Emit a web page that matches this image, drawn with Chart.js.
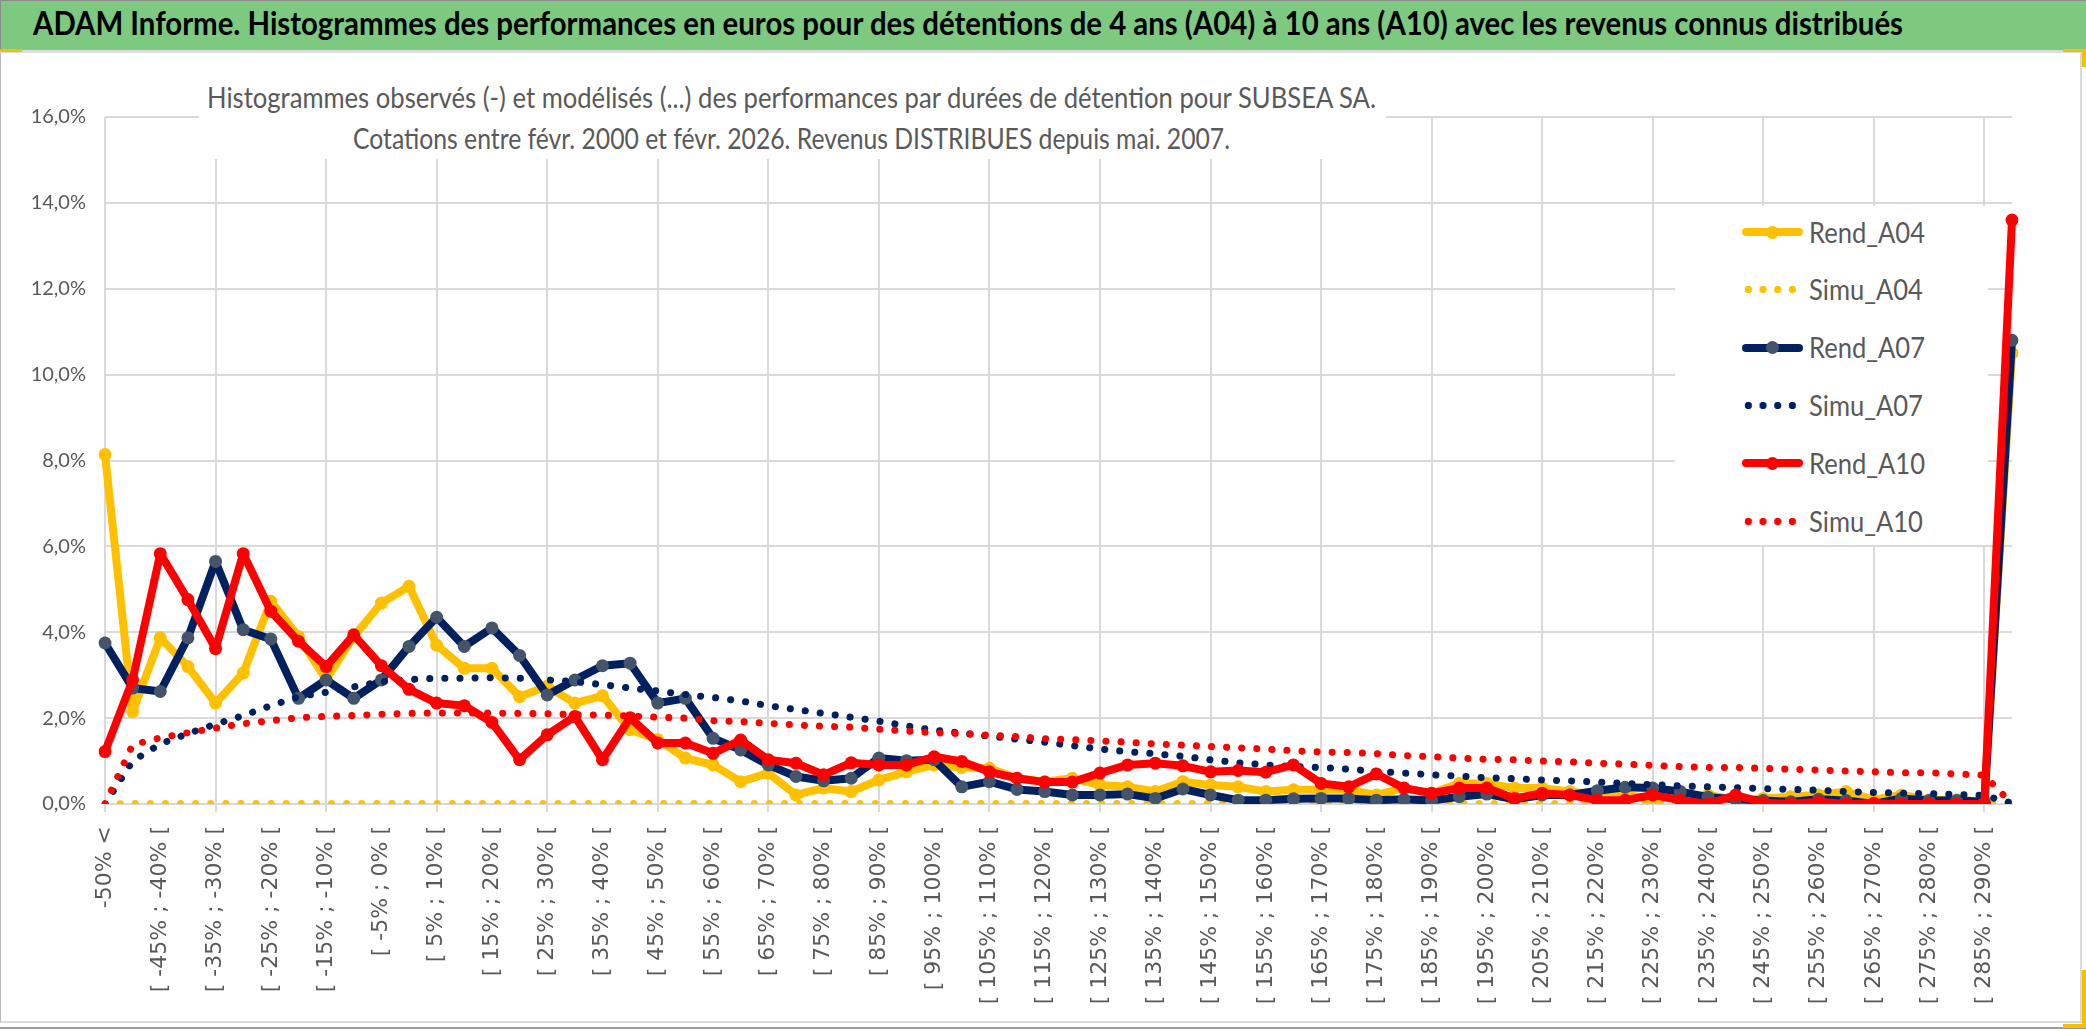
<!DOCTYPE html>
<html>
<head>
<meta charset="utf-8">
<script src="https://cdn.jsdelivr.net/npm/chart.js@4.4.1/dist/chart.umd.min.js"></script>
<style>
body { margin: 0; background: #fff; }
#page { position: relative; width: 2086px; height: 1031px; overflow: hidden; background: #fff; }
#head { position: absolute; left: 0; top: 0; width: 2086px; height: 50px; background: #7dc97f; border-top: 1px solid #8a8a8a; border-left: 1px solid #8a8a8a; box-sizing: border-box; }
#headline { position: absolute; left: 0; top: 50px; width: 2086px; height: 3px; background: #dcdcdc; }
#frame { position: absolute; left: 0; top: 53px; width: 2082px; height: 970px; border-right: 2px solid #d9d9d9; border-bottom: 2px solid #d9d9d9; border-left: 1px solid #bbb; box-sizing: border-box; }
#bottomline { position: absolute; left: 0; top: 1027px; width: 2086px; height: 2px; background: #9a9a9a; }
#cv { position: absolute; left: 0; top: 0; }
.txt { position: absolute; white-space: nowrap; transform-origin: left center; font-family: Lato, "Open Sans", sans-serif; line-height: 1; }
#title { left: 33px; top: 7px; font-size: 32px; font-weight: bold; color: #000; }
#subbox { position: absolute; left: 199px; top: 56px; width: 1187px; height: 103px; background: #fff; }
.sub { font-size: 29px; color: #595959; }
#legend { position: absolute; left: 1675px; top: 206px; width: 313px; height: 339px; background: #fff; }
.lab { font-size: 28px; color: #595959; }
.key { position: absolute; }
.hdl { position: absolute; background: #f5c000; }
</style>
</head>
<body>
<div id="page">
  <div id="frame"></div>
  <canvas id="cv" width="2086" height="1031"></canvas>
  <div id="head"></div>
  <div id="headline"></div>
  <div id="bottomline"></div>
  <div class="hdl" style="left:0;top:49px;width:22px;height:3px"></div>
  <div class="hdl" style="left:2063px;top:49px;width:23px;height:3px"></div>
  <div class="hdl" style="left:2082px;top:52px;width:4px;height:15px"></div>
  <div class="hdl" style="left:2082px;top:970px;width:4px;height:58px"></div>
  <div class="hdl" style="left:2063px;top:1024px;width:23px;height:4px"></div>
  <span class="txt" id="title">ADAM Informe. Histogrammes des performances en euros pour des détentions de 4 ans (A04) à 10 ans (A10) avec les revenus connus distribués</span>
  <div id="subbox"></div>
  <span class="txt sub" id="sub1" style="left:207px;top:82px">Histogrammes observés (-) et modélisés (...) des performances par durées de détention pour SUBSEA SA.</span>
  <span class="txt sub" id="sub2" style="left:353px;top:123px">Cotations entre févr. 2000 et févr. 2026. Revenus DISTRIBUES depuis mai. 2007.</span>
  <div id="legend"></div>
</div>
<script>
// classes de performance (une étiquette sur deux affichée)
const categories = [
  '-50% <', '[ -50% ; -45% [', '[ -45% ; -40% [', '[ -40% ; -35% [', '[ -35% ; -30% [', '[ -30% ; -25% [',
  '[ -25% ; -20% [', '[ -20% ; -15% [', '[ -15% ; -10% [', '[ -10% ; -5% [', '[ -5% ; 0% [', '[ 0% ; 5% [',
  '[ 5% ; 10% [', '[ 10% ; 15% [', '[ 15% ; 20% [', '[ 20% ; 25% [', '[ 25% ; 30% [', '[ 30% ; 35% [',
  '[ 35% ; 40% [', '[ 40% ; 45% [', '[ 45% ; 50% [', '[ 50% ; 55% [', '[ 55% ; 60% [', '[ 60% ; 65% [',
  '[ 65% ; 70% [', '[ 70% ; 75% [', '[ 75% ; 80% [', '[ 80% ; 85% [', '[ 85% ; 90% [', '[ 90% ; 95% [',
  '[ 95% ; 100% [', '[ 100% ; 105% [', '[ 105% ; 110% [', '[ 110% ; 115% [', '[ 115% ; 120% [', '[ 120% ; 125% [',
  '[ 125% ; 130% [', '[ 130% ; 135% [', '[ 135% ; 140% [', '[ 140% ; 145% [', '[ 145% ; 150% [', '[ 150% ; 155% [',
  '[ 155% ; 160% [', '[ 160% ; 165% [', '[ 165% ; 170% [', '[ 170% ; 175% [', '[ 175% ; 180% [', '[ 180% ; 185% [',
  '[ 185% ; 190% [', '[ 190% ; 195% [', '[ 195% ; 200% [', '[ 200% ; 205% [', '[ 205% ; 210% [', '[ 210% ; 215% [',
  '[ 215% ; 220% [', '[ 220% ; 225% [', '[ 225% ; 230% [', '[ 230% ; 235% [', '[ 235% ; 240% [', '[ 240% ; 245% [',
  '[ 245% ; 250% [', '[ 250% ; 255% [', '[ 255% ; 260% [', '[ 260% ; 265% [', '[ 265% ; 270% [', '[ 270% ; 275% [',
  '[ 275% ; 280% [', '[ 280% ; 285% [', '[ 285% ; 290% [', '290% >'
]

// valeurs en %
const rendA04 = [8.14, 2.15, 3.87, 3.2, 2.35, 3.05, 4.72, 3.9, 2.9, 3.9, 4.68, 5.07, 3.7, 3.16, 3.16, 2.5, 2.74, 2.35, 2.52, 1.73,
  1.5, 1.07, 0.91, 0.52, 0.72, 0.21, 0.37, 0.29, 0.56, 0.75, 0.91, 0.85, 0.83, 0.6, 0.52, 0.6, 0.44, 0.4, 0.29, 0.52,
  0.44, 0.4, 0.29, 0.33, 0.33, 0.33, 0.21, 0.37, 0.25, 0.48, 0.48, 0.37, 0.37, 0.29, 0.21, 0.21, 0.13, 0.17, 0.21, 0.1,
  0.13, 0.17, 0.21, 0.29, 0.1, 0.21, 0.1, 0.1, 0.05, 10.5]
const simuA04 = [0, 0.01, 0.01, 0.01, 0.01, 0.01, 0.01, 0.01, 0.01, 0.01, 0.01, 0.01, 0.01, 0.01, 0.01, 0.01, 0.01, 0.01, 0.01, 0.01,
  0.01, 0.01, 0.01, 0.01, 0.01, 0.01, 0.01, 0.01, 0.01, 0.01, 0.01, 0.01, 0.01, 0.01, 0.01, 0.01, 0.01, 0.01, 0.01, 0.01,
  0.01, 0.01, 0.01, 0.01, 0.01, 0.01, 0.01, 0.01, 0.01, 0.01, 0.01, 0.01, 0.01, 0.01, 0.01, 0.01, 0.01, 0.01, 0.01, 0.01,
  0.01, 0.01, 0.01, 0.01, 0.01, 0.01, 0.01, 0.01, 0.01, 0.01]
const rendA07 = [3.75, 2.7, 2.62, 3.87, 5.65, 4.06, 3.84, 2.46, 2.89, 2.46, 2.89, 3.67, 4.35, 3.67, 4.1, 3.46, 2.54, 2.89, 3.22, 3.28,
  2.35, 2.46, 1.53, 1.26, 0.91, 0.64, 0.54, 0.6, 1.07, 1.01, 1.03, 0.4, 0.52, 0.34, 0.29, 0.21, 0.21, 0.23, 0.13, 0.35,
  0.21, 0.09, 0.09, 0.12, 0.13, 0.13, 0.09, 0.11, 0.08, 0.17, 0.23, 0.11, 0.21, 0.21, 0.31, 0.39, 0.37, 0.29, 0.16, 0.11,
  0.08, 0.05, 0.11, 0.08, 0.0, 0.13, 0.08, 0.08, 0.05, 10.8]
const simuA07 = [0, 1.0, 1.4, 1.64, 1.86, 2.06, 2.29, 2.5, 2.6, 2.73, 2.85, 2.9, 2.93, 2.93, 2.94, 2.93, 2.89, 2.85, 2.78, 2.7,
  2.63, 2.55, 2.48, 2.4, 2.29, 2.2, 2.11, 2.02, 1.93, 1.82, 1.72, 1.65, 1.58, 1.51, 1.44, 1.36, 1.28, 1.22, 1.17, 1.11,
  1.03, 0.96, 0.91, 0.87, 0.85, 0.81, 0.76, 0.72, 0.68, 0.65, 0.61, 0.59, 0.56, 0.54, 0.51, 0.48, 0.45, 0.42, 0.4, 0.38,
  0.36, 0.34, 0.32, 0.29, 0.27, 0.25, 0.24, 0.22, 0.2, 0.02]
const rendA10 = [1.22, 2.89, 5.83, 4.76, 3.62, 5.83, 4.49, 3.79, 3.2, 3.94, 3.22, 2.67, 2.35, 2.29, 1.9, 1.03, 1.61, 2.04, 1.03, 2.01,
  1.42, 1.42, 1.18, 1.49, 1.03, 0.95, 0.68, 0.96, 0.91, 0.91, 1.1, 0.99, 0.75, 0.6, 0.51, 0.51, 0.72, 0.91, 0.95, 0.89,
  0.75, 0.78, 0.74, 0.91, 0.48, 0.4, 0.7, 0.37, 0.25, 0.37, 0.37, 0.13, 0.25, 0.21, 0.09, 0.09, 0.21, 0.09, 0.0, 0.21,
  0.03, 0.0, 0.05, 0.0, 0.02, 0.0, 0.0, 0.0, 0.0, 13.6]
const simuA10 = [0, 1.38, 1.54, 1.66, 1.77, 1.87, 1.94, 2.01, 2.04, 2.06, 2.09, 2.11, 2.12, 2.12, 2.12, 2.11, 2.1, 2.08, 2.07, 2.05,
  2.02, 2.0, 1.94, 1.92, 1.88, 1.84, 1.81, 1.79, 1.74, 1.7, 1.66, 1.64, 1.6, 1.57, 1.52, 1.5, 1.47, 1.44, 1.4, 1.37,
  1.34, 1.31, 1.28, 1.24, 1.21, 1.2, 1.17, 1.13, 1.1, 1.07, 1.04, 1.03, 1.0, 0.98, 0.95, 0.93, 0.9, 0.87, 0.85, 0.85,
  0.83, 0.81, 0.79, 0.77, 0.75, 0.73, 0.73, 0.7, 0.67, 0.0]

const yellow = '#FFC000', navy = '#002060', red = '#FF0000'

function rend(label, data, color, marker, order) {
  return { label: label, data: data, borderColor: color, backgroundColor: color, borderWidth: 8,
    pointRadius: 6.5, pointHoverRadius: 6.5, pointBackgroundColor: marker, pointBorderWidth: 0,
    borderJoinStyle: 'round', tension: 0, order: order, kind: 'rend' }
}
function simu(label, data, color, order) {
  return { label: label, data: data, borderColor: color, backgroundColor: color, borderWidth: 7,
    borderDash: [0.1, 15], borderCapStyle: 'round', pointRadius: 0, pointHoverRadius: 0,
    tension: 0, order: order, kind: 'simu' }
}

const chart = new Chart(document.getElementById('cv').getContext('2d'), {
  type: 'line',
  data: {
    labels: categories,
    datasets: [
      rend('Rend_A04', rendA04, yellow, yellow, 6),
      simu('Simu_A04', simuA04, yellow, 5),
      rend('Rend_A07', rendA07, navy, '#44546A', 4),
      simu('Simu_A07', simuA07, navy, 3),
      rend('Rend_A10', rendA10, red, red, 2),
      simu('Simu_A10', simuA10, red, 1)
    ]
  },
  options: {
    responsive: false,
    animation: false,
    devicePixelRatio: 1,
    layout: { padding: { top: 117, right: 74, left: 0, bottom: 0 } },
    plugins: { legend: { display: false }, tooltip: { enabled: false } },
    scales: {
      x: {
        grid: { color: c => c.index % 4 === 0 ? '#d9d9d9' : 'rgba(0,0,0,0)', lineWidth: 2, tickLength: 8 },
        border: { color: '#d9d9d9', width: 2 },
        ticks: {
          autoSkip: false, maxRotation: 90, minRotation: 90, padding: 14, color: '#595959',
          font: { family: 'DejaVu Sans', size: 22 },
          callback: (v, i) => i % 2 === 0 ? categories[i] : ''
        },
        afterFit: s => { s.height = 227 }
      },
      y: {
        min: 0, max: 16,
        grid: { color: '#d9d9d9', lineWidth: 2, drawTicks: false },
        border: { display: false },
        ticks: {
          stepSize: 2, padding: 19, color: '#595959', font: { family: 'Lato', size: 20 },
          callback: v => v.toFixed(1).replace('.', ',') + '%'
        },
        afterFit: s => { s.width = 105 }
      }
    }
  }
})

// légende façon Excel, posée sur le graphique
const legend = document.getElementById('legend')
const labs = []
chart.data.datasets.forEach((ds, i) => {
  const cy = 26 + i * 57.8
  const key = document.createElement('div')
  key.className = 'key'
  if (ds.kind === 'rend') {
    key.style.cssText = 'left:67px;top:' + (cy - 4) + 'px;width:61px;height:8px;border-radius:4px;background:' + ds.borderColor
    const dot = document.createElement('div')
    dot.style.cssText = 'position:absolute;left:24px;top:-2.5px;width:13px;height:13px;border-radius:50%;background:' + ds.pointBackgroundColor
    key.appendChild(dot)
  } else {
    key.style.cssText = 'left:66px;top:' + (cy - 4.5) + 'px;width:59px;height:9px;background:radial-gradient(circle, ' +
      ds.borderColor + ' 3.4px, rgba(0,0,0,0) 4px) 0 0 / 14.7px 9px repeat-x'
  }
  legend.appendChild(key)
  const lab = document.createElement('span')
  lab.className = 'txt lab'
  lab.textContent = ds.label
  lab.style.left = '134px'
  lab.style.top = (cy - 14.5) + 'px'
  legend.appendChild(lab)
  labs.push(lab)
})

function fitWidth(el, target) {
  const w = el.getBoundingClientRect().width
  const k = target / w
  el.style.transform = 'scaleX(' + k + ')'
  return k
}
fitWidth(document.getElementById('title'), 1870)
fitWidth(document.getElementById('sub1'), 1169)
fitWidth(document.getElementById('sub2'), 877)
const k = fitWidth(labs[0], 116)
labs.forEach(l => { l.style.transform = 'scaleX(' + k + ')' })
</script>
</body>
</html>
